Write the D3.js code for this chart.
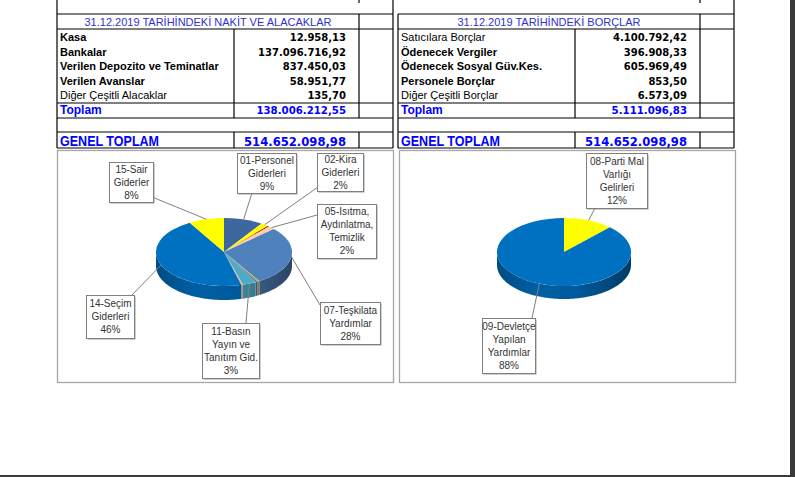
<!DOCTYPE html>
<html>
<head>
<meta charset="utf-8">
<script src="https://cdn.jsdelivr.net/npm/d3@7"></script>
<style>
    body { margin: 0; background: #fff; }
    svg { display: block; }
    text { font-family: "Liberation Sans", Arial, sans-serif; }
</style>
</head>
<body>
<div id="chart"></div>
<script>
// ---- data
const assetTitle = "31.12.2019 TARİHİNDEKİ NAKİT VE ALACAKLAR";
const assetLabels = ["Kasa", "Bankalar", "Verilen Depozito ve Teminatlar", "Verilen Avanslar", "Diğer Çeşitli Alacaklar"];
const assetValues = [12958.13, 137096716.92, 837450.03, 58951.77, 135.70];

const debtTitle = "31.12.2019 TARİHİNDEKİ BORÇLAR";
const debtLabels = ["Satıcılara Borçlar", "Ödenecek Vergiler", "Ödenecek Sosyal Güv.Kes.", "Personele Borçlar", "Diğer Çeşitli Borçlar"];
const debtValues = [4100792.42, 396908.33, 605969.49, 853.50, 6573.09];

const totalLabel = "Toplam";
const grandLabel = "GENEL TOPLAM";
const grandTotal = 514652098.98;

// expense pie (share %, clockwise from 12 o'clock)
const expenseNames = ["01-Personel Giderleri", "02-Kira Giderleri", "03", "05-Isıtma, Aydınlatma, Temizlik",
    "07-Teşkilata Yardımlar", "04", "06", "11-Basın Yayın ve Tanıtım Gid.", "10", "14-Seçim Giderleri", "15-Sair Giderler"];
const expenseShares = [9.3, 1.8, 0.4, 1.6, 28.2, 0.5, 0.5, 3.2, 0.4, 45.7, 8.4];
const expenseLabelLines = [["01-Personel", "Giderleri"], ["02-Kira", "Giderleri"], null, ["05-Isıtma,", "Aydınlatma,", "Temizlik"],
    ["07-Teşkilata", "Yardımlar"], null, null, ["11-Basın", "Yayın ve", "Tanıtım Gid."], null, ["14-Seçim", "Giderleri"], ["15-Sair", "Giderler"]];

// income pie
const incomeNames = ["08-Parti Mal Varlığı Gelirleri", "09-Devletçe Yapılan Yardımlar"];
const incomeShares = [12, 88];
const incomeLabelLines = [["08-Parti Mal", "Varlığı", "Gelirleri"], ["09-Devletçe", "Yapılan", "Yardımlar"]];

// ---- styles / layout
const expenseColors = ["#3d679e", "#ffff00", "#c00000", "#fbd0ae", "#4f81bd", "#9bbb59", "#8064a2", "#4bacc6", "#f2b48c", "#0070c0", "#ffff00"];
const incomeColors = ["#ffff00", "#0070c0"];
const normalAssetRows = [4];
const normalDebtRows = [0, 4];

const expenseBoxes = {
    0: {x: 237, y: 153, w: 59, h: 40, ax: 252, ay: 193},
    1: {x: 317, y: 153, w: 46, h: 38, ax: 318, ay: 187},
    3: {x: 317, y: 204, w: 59, h: 54, ax: 317, ay: 215},
    4: {x: 320, y: 302, w: 60, h: 42, ax: 320, ay: 305},
    7: {x: 202, y: 323, w: 57, h: 55, ax: 246, ay: 323},
    9: {x: 86, y: 295, w: 48, h: 43, ax: 131, ay: 296},
    10: {x: 109, y: 162, w: 44, h: 40, ax: 152, ay: 197}
};
const incomeBoxes = {
    0: {x: 586, y: 153, w: 61, h: 55, ax: 595, ay: 208},
    1: {x: 482, y: 318, w: 53, h: 55, ax: 532, ay: 318}
};

const width = 795, height = 477;
const blue = "#0000ff", titleBlue = "#3030d0";

const trFormat = d3.formatLocale({decimal: ",", thousands: ".", grouping: [3], currency: ["", ""]}).format(",.2f");
const pctFormat = d3.format(".0f");

const svg = d3.select("#chart").append("svg")
    .attr("width", width)
    .attr("height", height);
const defs = svg.append("defs");

// page edges
svg.append("rect").attr("x", 790).attr("y", 0).attr("width", 5).attr("height", height).attr("fill", "#3a3a3a");
svg.append("rect").attr("x", 0).attr("y", 475).attr("width", width).attr("height", 2).attr("fill", "#3a3a3a");

function line(g, x1, y1, x2, y2) {
    g.append("line")
        .attr("x1", x1).attr("y1", y1).attr("x2", x2).attr("y2", y2)
        .attr("stroke", "#000").attr("stroke-width", 1.2);
}

function drawTable(cols, title, labels, values, normalRows, leftFromTop) {
    let g = svg.append("g");
    const [x0, x1, x2, x3] = cols;
    const rowY = [14, 29, 103, 118, 132, 148];

    // grid
    line(g, x0, leftFromTop ? 0 : rowY[0], x0, rowY[5]);
    line(g, x3, 0, x3, rowY[5]);
    line(g, x2, 0, x2, 3);
    line(g, x2, rowY[0], x2, rowY[3]);
    line(g, x2, rowY[4], x2, rowY[5]);
    line(g, x1, rowY[1], x1, rowY[3]);
    line(g, x1, rowY[4], x1, rowY[5]);
    rowY.forEach(y => line(g, x0, y, x3, y));

    g.append("text")
        .attr("x", (x0 + x2) / 2).attr("y", 25.7)
        .attr("text-anchor", "middle")
        .attr("font-size", 11).attr("fill", titleBlue)
        .text(title);

    labels.forEach((d, i) => {
        let y = 41 + i * 14.5;
        g.append("text")
            .attr("x", x0 + 3).attr("y", y)
            .attr("font-size", 11)
            .attr("font-weight", normalRows.includes(i) ? "normal" : "bold")
            .text(d);
        g.append("text")
            .attr("x", x2 - 13).attr("y", y)
            .attr("text-anchor", "end")
            .style("font-family", "'DejaVu Sans', sans-serif")
            .attr("font-size", 10).attr("font-weight", "bold")
            .text(trFormat(values[i]));
    });

    let total = Math.round(d3.sum(values) * 100) / 100;
    g.append("text")
        .attr("x", x0 + 3).attr("y", 114)
        .attr("font-size", 12).attr("font-weight", "bold").attr("fill", blue)
        .text(totalLabel);
    g.append("text")
        .attr("x", x2 - 13).attr("y", 114)
        .attr("text-anchor", "end")
        .style("font-family", "'DejaVu Sans', sans-serif")
        .attr("font-size", 10.2).attr("font-weight", "bold").attr("fill", blue)
        .text(trFormat(total));

    g.append("text")
        .attr("x", x0 + 3).attr("y", 146)
        .attr("font-size", 14).attr("font-weight", "bold").attr("fill", blue)
        .attr("textLength", 99).attr("lengthAdjust", "spacingAndGlyphs")
        .text(grandLabel);
    g.append("text")
        .attr("x", x2 - 13).attr("y", 146)
        .attr("text-anchor", "end")
        .style("font-family", "'DejaVu Sans', sans-serif")
        .attr("font-size", 11.6).attr("font-weight", "bold").attr("fill", blue)
        .text(trFormat(grandTotal));
}

drawTable([57, 234, 359, 393], assetTitle, assetLabels, assetValues, normalAssetRows, true);
drawTable([398, 575, 700, 734], debtTitle, debtLabels, debtValues, normalDebtRows, false);

// chart panels
[57, 399].forEach(x => {
    svg.append("rect")
        .attr("x", x + 0.5).attr("y", 150.5).attr("width", 336).attr("height", 232)
        .attr("fill", "#fff").attr("stroke", "#a6a6a6").attr("stroke-width", 1.3);
});

function drawPie(id, shares, colors, labelLines, boxes, geo) {
    let g = svg.append("g");
    const arcs = d3.pie().sort(null).value(d => d)(shares);
    const pt = (a) => [geo.cx + geo.rx * Math.sin(a), geo.cy - geo.ry * Math.cos(a)];

    // side walls (front half only)
    arcs.forEach((d, i) => {
        let a0 = Math.max(d.startAngle, Math.PI / 2);
        let a1 = Math.min(d.endAngle, 3 * Math.PI / 2);
        if (a1 <= a0) return;
        let n = Math.max(2, Math.ceil((a1 - a0) / 0.02));
        let top = d3.range(n + 1).map(k => pt(a0 + (a1 - a0) * k / n));
        let bottom = top.map(p => [p[0], p[1] + geo.depth]).reverse();

        let c = d3.color(colors[i]);
        let gid = `${id}-side-${i}`;
        let grad = defs.append("linearGradient")
            .attr("id", gid)
            .attr("gradientUnits", "userSpaceOnUse")
            .attr("x1", geo.cx - geo.rx).attr("x2", geo.cx + geo.rx)
            .attr("y1", 0).attr("y2", 0);
        [[0, 1.1], [0.3, 0.45], [0.6, 0.6], [1, 1.8]].forEach(s => {
            grad.append("stop").attr("offset", s[0]).attr("stop-color", c.darker(s[1]));
        });

        g.append("path")
            .attr("d", d3.line()(top.concat(bottom)) + "Z")
            .attr("fill", `url(#${gid})`);
    });

    // top face
    g.append("g")
        .attr("transform", `translate(${geo.cx},${geo.cy}) scale(1,${geo.ry / geo.rx})`)
        .selectAll("path")
        .data(arcs)
        .join("path")
        .attr("d", d3.arc().innerRadius(0).outerRadius(geo.rx))
        .attr("fill", (d, i) => colors[i]);

    // callouts
    arcs.forEach((d, i) => {
        let b = boxes[i];
        if (!b || !labelLines[i]) return;
        let p = pt((d.startAngle + d.endAngle) / 2);
        g.append("line")
            .attr("x1", b.ax).attr("y1", b.ay).attr("x2", p[0]).attr("y2", p[1])
            .attr("stroke", "#7f7f7f").attr("stroke-width", 1);

        g.append("rect")
            .attr("x", b.x + 1.5).attr("y", b.y + 1.5).attr("width", b.w).attr("height", b.h)
            .attr("fill", "#a0a0a0");
        g.append("rect")
            .attr("x", b.x + 0.5).attr("y", b.y + 0.5).attr("width", b.w).attr("height", b.h)
            .attr("fill", "#fff").attr("stroke", "#7f7f7f").attr("stroke-width", 1);

        let lines = labelLines[i].concat([pctFormat(d.value) + "%"]);
        let step = 13;
        let y0 = b.y + b.h / 2 - (lines.length - 1) * step / 2 + 3.5;
        lines.forEach((t, k) => {
            g.append("text")
                .attr("x", b.x + b.w / 2 + 0.5).attr("y", y0 + k * step)
                .attr("text-anchor", "middle")
                .attr("font-size", 10).attr("fill", "#333")
                .text(t);
        });
    });
}

drawPie("exp", expenseShares, expenseColors, expenseLabelLines, expenseBoxes, {cx: 224, cy: 252, rx: 68, ry: 34, depth: 14});
drawPie("inc", incomeShares, incomeColors, incomeLabelLines, incomeBoxes, {cx: 564, cy: 252, rx: 67, ry: 34, depth: 13});
</script>
</body>
</html>
